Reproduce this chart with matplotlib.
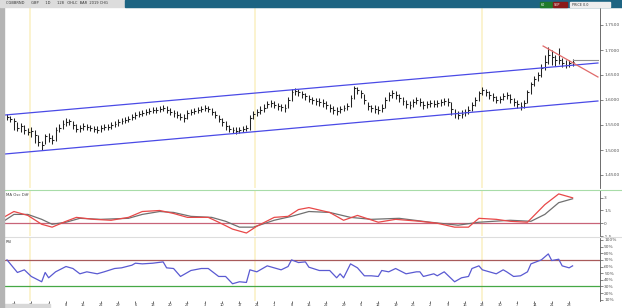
import matplotlib
matplotlib.use("Agg")
from matplotlib import pyplot as plt
from matplotlib.patches import Rectangle

# --- price bars (daily) ---
close = [1.566, 1.562, 1.558, 1.544, 1.548, 1.540, 1.536, 1.538, 1.530, 1.516,
         1.510, 1.528, 1.524, 1.520, 1.540, 1.544, 1.552, 1.556, 1.558, 1.550,
         1.542, 1.544, 1.548, 1.546, 1.544, 1.542, 1.540, 1.544, 1.546, 1.546,
         1.550, 1.552, 1.556, 1.558, 1.560, 1.562, 1.566, 1.570, 1.572, 1.574,
         1.576, 1.578, 1.580, 1.580, 1.582, 1.584, 1.580, 1.576, 1.574, 1.570,
         1.566, 1.564, 1.574, 1.576, 1.578, 1.580, 1.582, 1.584, 1.582, 1.576,
         1.570, 1.562, 1.556, 1.548, 1.542, 1.540, 1.538, 1.540, 1.542, 1.544,
         1.564, 1.572, 1.576, 1.580, 1.584, 1.592, 1.594, 1.590, 1.588, 1.586,
         1.584, 1.600, 1.616, 1.618, 1.616, 1.612, 1.608, 1.602, 1.600, 1.598,
         1.596, 1.594, 1.590, 1.584, 1.580, 1.578, 1.582, 1.584, 1.588, 1.604,
         1.624, 1.620, 1.614, 1.600, 1.588, 1.584, 1.582, 1.580, 1.584, 1.600,
         1.610, 1.614, 1.610, 1.604, 1.598, 1.592, 1.590, 1.596, 1.600, 1.596,
         1.590, 1.592, 1.594, 1.592, 1.594, 1.596, 1.598, 1.596, 1.582, 1.574,
         1.570, 1.572, 1.576, 1.580, 1.590, 1.600, 1.614, 1.620, 1.616, 1.610,
         1.606, 1.600, 1.602, 1.608, 1.610, 1.602, 1.596, 1.592, 1.588, 1.594,
         1.616, 1.632, 1.642, 1.650, 1.664, 1.676, 1.690, 1.686, 1.680, 1.680,
         1.674, 1.670, 1.674, 1.676]
high = [1.572, 1.568, 1.564, 1.556, 1.554, 1.550, 1.544, 1.546, 1.540, 1.530,
        1.518, 1.532, 1.534, 1.530, 1.546, 1.552, 1.560, 1.564, 1.562, 1.558,
        1.552, 1.550, 1.554, 1.552, 1.550, 1.548, 1.548, 1.550, 1.552, 1.552,
        1.556, 1.558, 1.562, 1.564, 1.566, 1.568, 1.572, 1.576, 1.578, 1.580,
        1.582, 1.584, 1.586, 1.586, 1.588, 1.590, 1.588, 1.584, 1.580, 1.578,
        1.574, 1.572, 1.580, 1.582, 1.584, 1.586, 1.588, 1.590, 1.588, 1.584,
        1.578, 1.570, 1.564, 1.558, 1.550, 1.546, 1.546, 1.546, 1.548, 1.550,
        1.570, 1.578, 1.582, 1.588, 1.592, 1.598, 1.600, 1.598, 1.594, 1.592,
        1.592, 1.606, 1.622, 1.624, 1.622, 1.618, 1.614, 1.610, 1.606, 1.604,
        1.604, 1.602, 1.598, 1.592, 1.588, 1.586, 1.588, 1.590, 1.594, 1.610,
        1.628, 1.626, 1.620, 1.612, 1.596, 1.590, 1.590, 1.588, 1.592, 1.606,
        1.616, 1.620, 1.618, 1.612, 1.606, 1.600, 1.598, 1.602, 1.606, 1.604,
        1.598, 1.598, 1.600, 1.600, 1.600, 1.602, 1.604, 1.604, 1.596, 1.582,
        1.578, 1.580, 1.582, 1.588, 1.596, 1.606, 1.618, 1.626, 1.622, 1.618,
        1.614, 1.608, 1.608, 1.614, 1.616, 1.612, 1.604, 1.600, 1.596, 1.600,
        1.620, 1.636, 1.648, 1.656, 1.672, 1.690, 1.706, 1.700, 1.690, 1.704,
        1.684, 1.680, 1.680, 1.682]
low = [1.560, 1.556, 1.540, 1.538, 1.536, 1.532, 1.530, 1.526, 1.514, 1.508,
       1.500, 1.512, 1.516, 1.512, 1.518, 1.536, 1.542, 1.548, 1.550, 1.542,
       1.536, 1.536, 1.540, 1.540, 1.538, 1.536, 1.534, 1.536, 1.540, 1.540,
       1.542, 1.546, 1.548, 1.552, 1.554, 1.556, 1.560, 1.562, 1.566, 1.568,
       1.570, 1.572, 1.574, 1.574, 1.576, 1.578, 1.574, 1.570, 1.566, 1.564,
       1.560, 1.556, 1.562, 1.570, 1.572, 1.574, 1.576, 1.578, 1.576, 1.570,
       1.564, 1.556, 1.548, 1.540, 1.536, 1.534, 1.532, 1.534, 1.536, 1.538,
       1.540, 1.562, 1.568, 1.572, 1.576, 1.584, 1.586, 1.584, 1.580, 1.578,
       1.576, 1.584, 1.598, 1.610, 1.608, 1.604, 1.600, 1.596, 1.592, 1.590,
       1.588, 1.586, 1.582, 1.576, 1.572, 1.570, 1.574, 1.578, 1.580, 1.586,
       1.602, 1.612, 1.604, 1.592, 1.580, 1.576, 1.574, 1.572, 1.576, 1.584,
       1.598, 1.604, 1.602, 1.596, 1.590, 1.584, 1.582, 1.586, 1.592, 1.588,
       1.582, 1.584, 1.586, 1.586, 1.586, 1.588, 1.590, 1.588, 1.570, 1.564,
       1.562, 1.564, 1.568, 1.572, 1.578, 1.588, 1.598, 1.610, 1.608, 1.602,
       1.598, 1.594, 1.594, 1.600, 1.602, 1.594, 1.588, 1.584, 1.580, 1.584,
       1.594, 1.612, 1.628, 1.638, 1.646, 1.660, 1.672, 1.670, 1.668, 1.672,
       1.666, 1.664, 1.666, 1.668]

# trend lines: (bar index, price) pairs
chan_up_x = [-0.6, 170.3]
chan_up_y = [1.570, 1.674]
chan_lo_x = [-0.6, 170.3]
chan_lo_y = [1.492, 1.598]
red_tl_x = [154.5, 170.3]
red_tl_y = [1.708, 1.646]
flat_tl_x = [163.0, 170.3]
flat_tl_y = [1.680, 1.680]

# MA oscillator
osc_fast_x = [-1, 2, 6, 10, 13, 17, 20, 25, 30, 35, 39, 44, 48, 52, 58, 61, 65, 69, 72, 77,
              81, 84, 87, 93, 97, 101, 107, 112, 119, 124, 129, 133, 136, 141, 145, 150,
              155, 159, 161, 163]
osc_fast = [0.69, 1.38, 0.92, -0.12, -0.46, 0.23, 0.69, 0.46, 0.35, 0.69, 1.38, 1.50, 1.15,
            0.69, 0.69, 0.12, -0.69, -1.15, -0.35, 0.69, 0.81, 1.61, 1.84, 1.27, 0.35, 0.92,
            0.12, 0.46, 0.23, 0.0, -0.46, -0.46, 0.58, 0.46, 0.23, 0.12, 2.19, 3.45, 3.22, 2.99]
osc_slow_x = [-1, 2, 6, 10, 13, 17, 21, 27, 35, 39, 44, 48, 53, 59, 63, 67, 71, 77, 82, 87,
              93, 99, 105, 113, 122, 130, 136, 145, 151, 155, 159, 163]
osc_slow = [0.23, 1.04, 1.04, 0.46, -0.12, 0.12, 0.58, 0.46, 0.58, 1.04, 1.38, 1.27, 0.81,
            0.69, 0.23, -0.46, -0.46, 0.35, 0.81, 1.38, 1.27, 0.69, 0.46, 0.58, 0.12, -0.23,
            0.12, 0.35, 0.23, 1.04, 2.42, 2.88]

# RSI
rsi_x = [0, 3, 5, 7, 10, 11, 12, 14, 17, 19, 21, 23, 26, 28, 31, 33, 36, 37, 39, 42,
         45, 46, 48, 50, 53, 56, 58, 61, 63, 65, 67, 69, 70, 72, 75, 79, 81, 82, 84, 86,
         87, 90, 93, 95, 96, 97, 99, 101, 103, 105, 107, 108, 110, 112, 115, 118, 119, 120,
         123, 124, 126, 128, 129, 131, 133, 134, 136, 137, 139, 141, 143, 144, 146, 148,
         150, 151, 154, 156, 157, 159, 160, 162, 163]
rsi = [70, 51, 55, 45, 37, 51, 43, 52, 60, 57, 49, 52, 49, 52, 57, 58, 62, 65, 64, 65,
       67, 58, 57, 45, 54, 57, 57, 45, 45, 34, 37, 36, 55, 52, 61, 55, 60, 70, 66, 67,
       59, 54, 54, 43, 49, 43, 64, 58, 46, 46, 45, 54, 52, 57, 49, 52, 52, 45, 49, 46,
       52, 42, 37, 43, 45, 57, 61, 55, 52, 49, 55, 52, 45, 46, 52, 64, 70, 79, 69, 71,
       61, 58, 61]

price_ticks = [1.45, 1.50, 1.55, 1.60, 1.65, 1.70, 1.75]
osc_ticks = [-1.5, 0, 1.5, 3.0]
rsi_ticks = [10, 20, 30, 40, 50, 60, 70, 80, 90, 100]
month_lines = [6.6, 71.5, 137.0]
date_pos = [2, 7, 12, 17, 22, 27, 32, 37, 42, 47, 52, 57, 62, 67, 72, 77, 82, 87, 92, 97,
            102, 107, 112, 117, 122, 127, 132, 137, 142, 147, 152, 157, 162]
date_lbl = ["18", "25", "1", "8", "15", "22", "29", "6", "13", "20", "27", "3", "10", "17",
            "24", "1", "8", "15", "22", "29", "5", "12", "19", "26", "2", "9", "16", "23",
            "30", "7", "14", "21", "28"]

W, H = 622, 308
fig = plt.figure(figsize=(W / 100, H / 100), dpi=100)
fig.patch.set_facecolor("white")


def fx(px):
    return px / W


def fy(py):
    return 1 - py / H


XL = (-0.865, 170.9)
ax = fig.add_axes([fx(4), fy(188), fx(596), 180 / H])
ax_osc = fig.add_axes([fx(4), fy(236), fx(596), 46 / H])
ax_rsi = fig.add_axes([fx(4), fy(301), fx(596), 63 / H])

for a in (ax, ax_osc, ax_rsi):
    a.set_xlim(*XL)
    for s in ("top", "left", "bottom"):
        a.spines[s].set_visible(False)
    a.spines["right"].set_color("#555555")
    a.spines["right"].set_linewidth(0.6)
    a.yaxis.tick_right()
    a.tick_params(axis="y", labelsize=3.2, length=2, width=0.5, pad=1, colors="#555555")
    a.tick_params(axis="x", length=0)
    a.set_xticks([])
    for m in month_lines:
        a.axvline(m, color="#fbf3cf", lw=1.4, zorder=0)

# price pane
idx = list(range(len(close)))
ax.vlines(idx, low, high, color="#222222", lw=0.75)
ax.hlines(close, [i for i in idx], [i + 0.55 for i in idx], color="#222222", lw=0.75)
ax.plot(chan_up_x, chan_up_y, color="#4a4ae6", lw=0.9)
ax.plot(chan_lo_x, chan_lo_y, color="#4a4ae6", lw=0.9)
ax.plot(red_tl_x, red_tl_y, color="#e06a6a", lw=0.9)
ax.plot(flat_tl_x, flat_tl_y, color="#909090", lw=0.8)
ax.set_ylim(1.424, 1.784)
ax.set_yticks(price_ticks)
ax.set_yticklabels([f"{v:.4f}" for v in price_ticks])

# oscillator pane
ax_osc.axhline(0, color="#c86478", lw=0.9)
ax_osc.plot(osc_slow_x, osc_slow, color="#707070", lw=0.9)
ax_osc.plot(osc_fast_x, osc_fast, color="#e84848", lw=0.9)
ax_osc.set_ylim(-1.38, 3.91)
ax_osc.set_yticks(osc_ticks)
ax_osc.set_yticklabels([f"{v:g}" for v in osc_ticks])
ax_osc.text(0.003, 0.93, "MA Osc Diff", transform=ax_osc.transAxes, fontsize=2.8,
            color="#444444", va="top")

# RSI pane
ax_rsi.axhline(70, color="#a85a5a", lw=0.9)
ax_rsi.axhline(30, color="#46a846", lw=0.9)
ax_rsi.plot(rsi_x, rsi, color="#5a5ad2", lw=0.9)
ax_rsi.set_ylim(8.0, 103.0)
ax_rsi.set_yticks(rsi_ticks)
ax_rsi.set_yticklabels([f"{v}%" for v in rsi_ticks])
ax_rsi.text(0.003, 0.97, "RSI", transform=ax_rsi.transAxes, fontsize=2.8,
            color="#444444", va="top")
ax_rsi.set_xticks(date_pos)
ax_rsi.set_xticklabels(date_lbl)
ax_rsi.tick_params(axis="x", labelsize=2.6, length=1.2, width=0.5, pad=0.3, colors="#333333")

# window chrome: left border, title bar, pane separators, date strip
fig.patches.append(Rectangle((0, 0), fx(4), 1, transform=fig.transFigure,
                             color="#b4b4b4", zorder=5))
fig.patches.append(Rectangle((0, fy(7)), 1, 7 / H, transform=fig.transFigure,
                             color="#dcdcdc", zorder=5))
fig.patches.append(Rectangle((fx(125), fy(7)), fx(497), 7 / H, transform=fig.transFigure,
                             color="#1d6482", zorder=6))
fig.patches.append(Rectangle((fx(540), fy(7)), fx(12), 5 / H, transform=fig.transFigure,
                             color="#1f7a2a", zorder=7))
fig.patches.append(Rectangle((fx(553), fy(7)), fx(14), 5 / H, transform=fig.transFigure,
                             color="#8a1a1a", zorder=7))
fig.patches.append(Rectangle((fx(570), fy(7)), fx(40), 5 / H, transform=fig.transFigure,
                             color="#eeeeee", zorder=7))
fig.text(fx(6), fy(3.5), "CGBBRND      GBP      1D      128   OHLC  BAR  2019 CHG",
         fontsize=2.6, color="#333333", va="center", zorder=8)
fig.text(fx(541), fy(4.5), "60", fontsize=2.4, color="white", va="center", zorder=8)
fig.text(fx(554), fy(4.5), "SEP", fontsize=2.4, color="white", va="center", zorder=8)
fig.text(fx(572), fy(4.5), "PRICE 0.0", fontsize=2.4, color="#333333", va="center", zorder=8)
fig.lines.append(plt.Line2D([fx(4), 1], [fy(190), fy(190)], transform=fig.transFigure,
                            color="#a8dca8", lw=0.8))
fig.lines.append(plt.Line2D([fx(4), 1], [fy(237), fy(237)], transform=fig.transFigure,
                            color="#dddddd", lw=0.8))
fig.patches.append(Rectangle((0, 0), fx(50), 4 / H, transform=fig.transFigure,
                             color="#d8d8d8", zorder=4))

fig.savefig("out.png", dpi=100)
plt.close()
